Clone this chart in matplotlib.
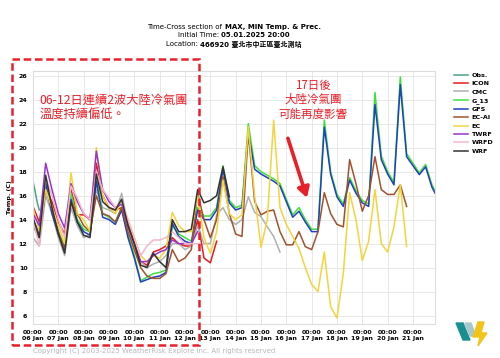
import numpy as np
import matplotlib
matplotlib.use("Agg")
import matplotlib.pyplot as plt
from matplotlib.patches import Rectangle, Polygon

plt.rcParams["font.family"] = ["DejaVu Sans", "Noto Sans CJK TC"]

# time axis: days since 06 Jan 00:00, 6-hourly
DAYS = np.arange(0, 16.01, 0.25)
TICK_DAYS = list(range(0, 16))
TICK_LABELS = [f"00:00\n{d:02d} Jan" for d in range(6, 22)]

OBS_DAYS = [0.0, 0.08, 0.17, 0.25]
OBS_TEMP = [17.2, 16.4, 15.4, 14.8]

ICON = [15.1, 13.8, 16.5, 15.5, 13.8, 12.8, 16.5, 14.4, 14.4, 14.0, 18.7, 16.0,
        15.0, 14.8, 15.0, 13.8, 12.0, 10.5, 10.2, 11.3, 11.5, 11.8, 12.5, 12.0,
        11.8, 11.8, 14.0, 10.8, 10.4, 12.2]
CMC = [12.5, 11.8, 16.0, 14.5, 12.5, 11.0, 15.0, 13.5, 12.5, 12.8, 16.5, 15.0,
       14.8, 14.5, 16.2, 13.5, 11.5, 10.5, 10.0, 10.3, 10.5, 11.0, 12.0, 12.0,
       11.5, 11.8, 13.5, 12.0, 12.0, 14.4, 15.0, 14.0, 13.6, 14.0, 15.9, 14.6,
       14.25, 13.4, 12.6, 11.3]
G_13 = [13.5, 12.5, 17.3, 15.0, 13.0, 11.8, 16.2, 14.0, 13.2, 13.0, 17.5, 14.5,
        14.2, 13.8, 15.0, 12.8, 11.0, 8.9, 9.2, 9.5, 9.6, 9.8, 13.5, 12.8,
        12.5, 12.2, 15.0, 14.3, 14.3, 15.0, 18.5, 15.6, 15.0, 15.2, 22.0, 18.5,
        18.0, 17.7, 17.4, 17.0, 15.7, 14.4, 15.0, 14.0, 13.2, 13.2, 22.3, 18.0,
        16.1, 15.3, 17.5, 16.4, 15.6, 15.3, 24.6, 19.3, 18.0, 17.1, 25.9, 19.5,
        18.7, 17.9, 18.6, 16.9, 15.9]
GFS = [14.0, 12.8, 17.0, 14.5, 12.8, 11.6, 15.7, 13.8, 13.0, 12.7, 17.2, 14.2,
       14.0, 13.6, 14.8, 12.5, 10.8, 8.8, 9.0, 9.2, 9.3, 9.6, 13.7, 12.6,
       12.2, 12.0, 14.8, 14.0, 14.0, 14.8, 18.2, 15.4, 14.8, 15.0, 21.3, 18.2,
       17.8, 17.5, 17.2, 16.8, 15.5, 14.2, 14.7, 13.8, 13.0, 13.0, 21.7, 17.8,
       15.9, 15.1, 17.3, 16.2, 15.4, 15.1, 23.6, 19.0, 17.8, 16.9, 25.25, 19.25,
       18.5, 17.75, 18.4, 16.7, 15.7]
EC_AI = [13.5, 12.5, 16.5, 15.0, 13.0, 11.5, 15.5, 14.5, 13.5, 13.0, 16.0, 14.5,
         14.3, 13.8, 15.0, 13.0, 11.5, 10.0, 9.3, 9.1, 9.1, 9.5, 11.5, 10.5,
         10.8, 11.5, 16.2, 14.0, 12.5, 14.0, 17.6, 14.5, 12.8, 12.6, 21.3, 15.5,
         14.4, 14.7, 14.8, 13.0, 11.9, 11.9, 13.0, 11.75, 11.5, 13.0, 16.25, 14.5,
         13.6, 13.4, 19.0, 17.0, 14.7, 16.0, 19.25, 16.5, 16.1, 16.1, 16.9, 15.1]
EC = [15.0, 13.0, 16.5, 15.0, 13.5, 12.0, 17.9, 14.5, 14.0, 13.0, 20.0, 16.0,
      15.0, 14.5, 15.5, 14.0, 12.5, 11.0, 10.5, 11.0, 10.8, 11.5, 14.6, 13.5,
      13.0, 13.0, 16.0, 12.5, 11.2, 13.0, 17.3, 14.5, 14.0, 14.4, 21.75, 16.0,
      11.7, 14.0, 22.3, 15.0, 13.6, 12.6, 11.6, 10.0, 8.6, 8.0, 11.3, 6.75,
      5.8, 9.5, 16.25, 14.0, 10.6, 12.2, 16.5, 12.0, 11.3, 13.4, 16.9, 11.75]
TWRF = [14.5, 13.5, 18.7, 16.5, 14.5, 13.3, 17.0, 15.5, 14.5, 14.0, 19.7, 16.5,
        15.5, 15.0, 15.3, 13.5, 12.0, 10.5, 10.5, 11.0, 11.3, 11.5, 12.3, 12.0,
        12.0, 12.0, 13.0]
WRFD = [14.0, 11.8, 17.5, 16.0, 14.0, 12.5, 16.8, 15.8, 14.5, 14.0, 18.0, 16.5,
        15.8, 15.0, 15.5, 14.0, 12.5, 11.0, 11.8, 12.3, 12.3, 12.5, 13.0, 12.5,
        12.0, 12.0, 12.0]
WRF = [14.2, 12.5, 17.7, 15.0, 12.8, 11.2, 15.5, 13.8, 12.7, 12.5, 17.8, 15.5,
       15.0, 14.8, 15.7, 13.5, 12.0, 10.2, 10.0, 11.2, 10.5, 10.0, 14.0, 13.0,
       13.0, 13.2, 16.5, 15.4, 15.6, 16.0, 18.4, 15.9]

SERIES = [
    ("ICON", ICON, "#e41a1c"),
    ("CMC", CMC, "#b0b0b0"),
    ("G_13", G_13, "#3ee03e"),
    ("GFS", GFS, "#2040c0"),
    ("EC-AI", EC_AI, "#a0522d"),
    ("EC", EC, "#f2d43c"),
    ("TWRF", TWRF, "#9933cc"),
    ("WRFD", WRFD, "#f4b6c8"),
    ("WRF", WRF, "#333333"),
]


def mixed_line(fig, xc, y, normal, bold, size):
    r = fig.canvas.get_renderer()
    t1 = fig.text(0, y, normal, fontsize=size, ha="left", va="center")
    t2 = fig.text(0, y, bold, fontsize=size, ha="left", va="center",
                  fontweight="bold")
    w1 = t1.get_window_extent(r).width / fig.bbox.width
    w2 = t2.get_window_extent(r).width / fig.bbox.width
    x0 = xc - (w1 + w2) / 2
    t1.set_x(x0)
    t2.set_x(x0 + w1)


def main():
    fig = plt.figure(figsize=(5.0, 3.58), dpi=100)
    ax = fig.add_axes([0.066, 0.095, 0.804, 0.707])

    ax.plot(OBS_DAYS, OBS_TEMP, color="#46a383", lw=1.1, label="Obs.")
    for name, vals, color in SERIES:
        y = np.full(len(DAYS), np.nan)
        y[:len(vals)] = vals
        ax.plot(DAYS, y, color=color, lw=1.1, label=name)

    ax.set_xlim(0, 15.87)
    ax.set_ylim(5.3, 26.4)
    ax.set_xticks(TICK_DAYS)
    ax.set_xticklabels(TICK_LABELS, fontsize=4.5, fontweight="bold",
                       linespacing=1.3)
    ax.set_yticks(range(6, 27, 2))
    ax.set_yticklabels([str(v) for v in range(6, 27, 2)], fontsize=4.5,
                       fontweight="bold")
    ax.tick_params(length=0, pad=4)
    ax.set_ylabel("Temp. (C)", fontsize=4.6, fontweight="bold", labelpad=5)
    ax.grid(color="#e8e8e8", lw=0.7)
    for s in ax.spines.values():
        s.set_color("#dddddd")
        s.set_linewidth(0.8)

    fig.legend(loc="upper left", bbox_to_anchor=(0.902, 0.805), frameon=False,
               prop={"size": 4.6, "weight": "bold"}, handlelength=2.3,
               labelspacing=0.45, handletextpad=0.5, borderaxespad=0)

    mixed_line(fig, 0.468, 1 - 27 / 358, "Time-Cross section of ",
               "MAX, MIN Temp. & Prec.", 5.0)
    mixed_line(fig, 0.468, 1 - 35 / 358, "Initial Time: ", "05.01.2025 20:00", 5.0)
    mixed_line(fig, 0.468, 1 - 44.5 / 358, "Location: ",
               "466920 臺北市中正區臺北測站", 5.0)

    # annotations
    cjk = ["Noto Sans CJK TC", "DejaVu Sans"]
    ax.text(0.25, 23.3, "06-12日連續2波大陸冷氣團\n溫度持續偏低。", color="#e8202a",
            fontsize=8.8, family=cjk, va="center", ha="left", linespacing=1.2)
    ax.text(11.05, 24.0, "17日後\n大陸冷氣團\n可能再度影響", color="#e8202a",
            fontsize=8.3, family=cjk, va="center", ha="center", linespacing=1.15)
    ax.annotate("", xy=(10.85, 15.6), xytext=(10.03, 21.0),
                arrowprops=dict(arrowstyle="-|>,head_width=0.35,head_length=0.6",
                                color="#e8202a", lw=2.6))

    fig.add_artist(Rectangle((12 / 500, 1 - 345 / 358), 187 / 500, 286 / 358,
                             transform=fig.transFigure, fill=False,
                             ec="#e8202a", lw=1.8, ls=(0, (3, 1.5))))

    fig.text(33 / 500, 1 - 351 / 358,
             "Copyright (C) 2003-2025 WeatherRisk Explore Inc. All rights reserved",
             fontsize=5.0, color="#b8b8b8", va="center")

    # logo
    def px(pts):
        return [(x / 500, 1 - y / 358) for x, y in pts]
    fig.add_artist(Polygon(px([(456, 323), (463, 323), (470, 340), (463, 340)]),
                           transform=fig.transFigure, color="#1a8f8f"))
    fig.add_artist(Polygon(px([(465, 323), (471, 323), (476, 336), (470, 336)]),
                           transform=fig.transFigure, color="#a8c8cc"))
    fig.add_artist(Polygon(px([(478, 322), (484, 322), (481, 333), (487, 333),
                               (478, 346), (480, 337), (473, 337)]),
                           transform=fig.transFigure, color="#f2c41a"))

    fig.savefig("out.png", dpi=100)
    plt.close(fig)


if __name__ == "__main__":
    main()
